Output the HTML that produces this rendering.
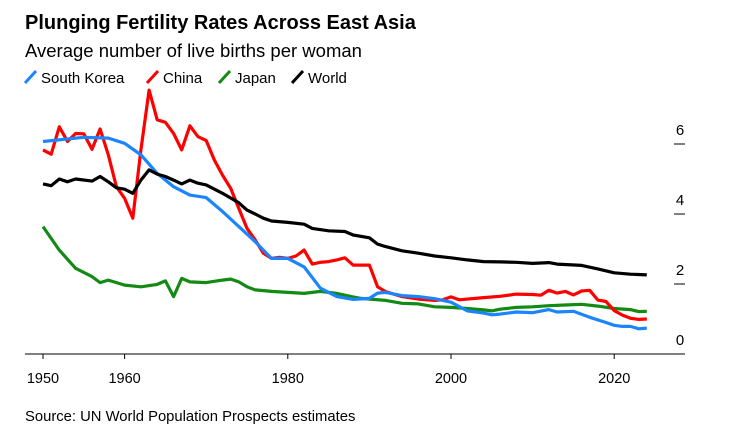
<!DOCTYPE html>
<html><head><meta charset="utf-8"><style>
body{margin:0;background:#fff;}
svg text{font-family:"Liberation Sans",Arial,sans-serif;}
</style></head><body>
<svg width="729" height="427" xmlns="http://www.w3.org/2000/svg">
<text x="25" y="29" font-size="20" font-weight="bold" fill="#000">Plunging Fertility Rates Across East Asia</text>
<text x="25" y="57" font-size="18.5" fill="#000">Average number of live births per woman</text>
<g id="legend"></g>
<g id="axes"></g>
<g id="plot"></g>
<text x="25" y="421" font-size="14.8" fill="#000">Source: UN World Population Prospects estimates</text>
</svg>
<script>
const koreaYears=[1950,1955,1958,1960,1962,1964,1966,1968,1970,1972,1974,1976,1978,1980,1982,1984,1986,1988,1990,1991,1992,1994,1996,1998,2000,2002,2004,2005,2006,2008,2010,2012,2013,2015,2017,2019,2020,2021,2022,2023,2024];
const koreaVals=[6.07,6.19,6.17,6.02,5.69,5.16,4.78,4.54,4.47,4.07,3.64,3.21,2.73,2.73,2.49,1.88,1.64,1.56,1.59,1.74,1.76,1.67,1.64,1.58,1.48,1.23,1.17,1.12,1.14,1.2,1.18,1.27,1.2,1.22,1.05,0.9,0.82,0.79,0.79,0.72,0.74];
const chinaYears=[1950,1951,1952,1953,1954,1955,1956,1957,1958,1959,1960,1961,1962,1963,1964,1965,1966,1967,1968,1969,1970,1971,1972,1973,1974,1975,1976,1977,1978,1979,1980,1981,1982,1983,1984,1985,1986,1987,1988,1989,1990,1991,1992,1994,1996,1998,1999,2000,2001,2004,2006,2008,2010,2011,2012,2013,2014,2015,2016,2017,2018,2019,2020,2021,2022,2023,2024];
const chinaVals=[5.83,5.71,6.49,6.07,6.3,6.29,5.85,6.43,5.69,4.78,4.45,3.88,5.83,7.54,6.69,6.62,6.3,5.83,6.52,6.21,6.1,5.54,5.11,4.73,4.16,3.59,3.26,2.88,2.73,2.76,2.73,2.8,2.97,2.57,2.62,2.64,2.69,2.75,2.54,2.54,2.54,1.92,1.78,1.64,1.57,1.53,1.55,1.63,1.55,1.61,1.65,1.71,1.7,1.68,1.82,1.74,1.79,1.69,1.8,1.82,1.54,1.5,1.24,1.11,1.02,0.99,1.0];
const japanYears=[1950,1952,1954,1956,1957,1958,1960,1962,1964,1965,1966,1967,1968,1970,1972,1973,1974,1975,1976,1978,1980,1982,1984,1986,1988,1989,1992,1994,1996,1998,2000,2002,2004,2005,2006,2008,2010,2012,2014,2016,2018,2020,2022,2023,2024];
const japanVals=[3.64,2.97,2.45,2.21,2.04,2.11,1.97,1.92,1.99,2.09,1.64,2.16,2.06,2.04,2.11,2.14,2.06,1.92,1.83,1.79,1.76,1.73,1.79,1.73,1.63,1.59,1.53,1.45,1.43,1.35,1.33,1.3,1.26,1.23,1.28,1.33,1.35,1.38,1.4,1.42,1.37,1.3,1.27,1.21,1.22];
const worldYears=[1950,1951,1952,1953,1954,1956,1957,1958,1959,1960,1961,1962,1963,1964,1965,1966,1967,1968,1969,1970,1972,1974,1975,1976,1977,1978,1980,1982,1983,1985,1987,1988,1990,1991,1992,1994,1996,1998,2000,2002,2004,2006,2008,2010,2012,2013,2016,2018,2020,2022,2024];
const worldVals=[4.86,4.81,5.0,4.92,5.0,4.94,5.07,4.92,4.75,4.71,4.59,4.97,5.26,5.14,5.07,4.97,4.86,4.97,4.88,4.83,4.59,4.32,4.11,4.0,3.88,3.8,3.76,3.71,3.59,3.52,3.5,3.4,3.32,3.14,3.07,2.95,2.88,2.8,2.75,2.69,2.64,2.63,2.62,2.59,2.61,2.57,2.53,2.43,2.32,2.28,2.26];
const xTicks=[1950,1960,1980,2000,2020];
const yTicks=[0,2,4,6];
const seriesNames=["South Korea","China","Japan","World"];

const NS="http://www.w3.org/2000/svg";
function xS(y){return 43+(y-1950)*8.16;}
function yS(v){return 354-v*35;}
function mk(tag,attrs,parent,txt){const e=document.createElementNS(NS,tag);for(const k in attrs)e.setAttribute(k,attrs[k]);if(txt!==undefined)e.textContent=txt;parent.appendChild(e);return e;}
const axes=document.getElementById('axes'),plot=document.getElementById('plot'),legend=document.getElementById('legend');
const base=mk('line',{x1:25,x2:685,y1:354,y2:354,stroke:'#000','stroke-width':1},axes);


xTicks.forEach(t=>{
  const l=mk('line',{x1:xS(t),x2:xS(t),y1:354,y2:359,stroke:'#000'},axes);
  
  
  const tx=mk('text',{x:xS(t),y:383,'font-size':14.5,'text-anchor':'middle',fill:'#000'},axes,String(t));
  
  
});
yTicks.forEach(t=>{
  if(t>0){
    const l=mk('line',{x1:674,x2:685,y1:yS(t),y2:yS(t),stroke:'#000'},axes);
    
    
  }
  const tx=mk('text',{x:680,y:yS(t)-9,'font-size':15,'text-anchor':'middle',fill:'#000'},axes,String(t));
  
  
});
const series=[[koreaYears,koreaVals,'#1a85ff','south-korea'],[chinaYears,chinaVals,'#ff0000','china'],[japanYears,japanVals,'#138a13','japan'],[worldYears,worldVals,'#000000','world']];
const order=[2,1,0,3];
order.forEach(i=>{
  const s=series[i];
  const d=s[0].map((y,j)=>(j?'L':'M')+xS(y).toFixed(1)+','+yS(s[1][j]).toFixed(1)).join('');
  const p=mk('path',{d:d,fill:'none',stroke:s[2],'stroke-width':3.2,'stroke-linejoin':'round'},plot);
  
  
});
const lx=[25,147,219,292];
series.forEach((s,i)=>{
  const g=mk('g',{},legend);
  
  
  mk('path',{d:`M${lx[i]},${83}L${lx[i]+11},${71}`,stroke:s[2],'stroke-width':3,fill:'none'},g);
  mk('text',{x:lx[i]+16,y:83,'font-size':15,fill:'#000'},g,seriesNames[i]);
});
</script>
</body></html>
